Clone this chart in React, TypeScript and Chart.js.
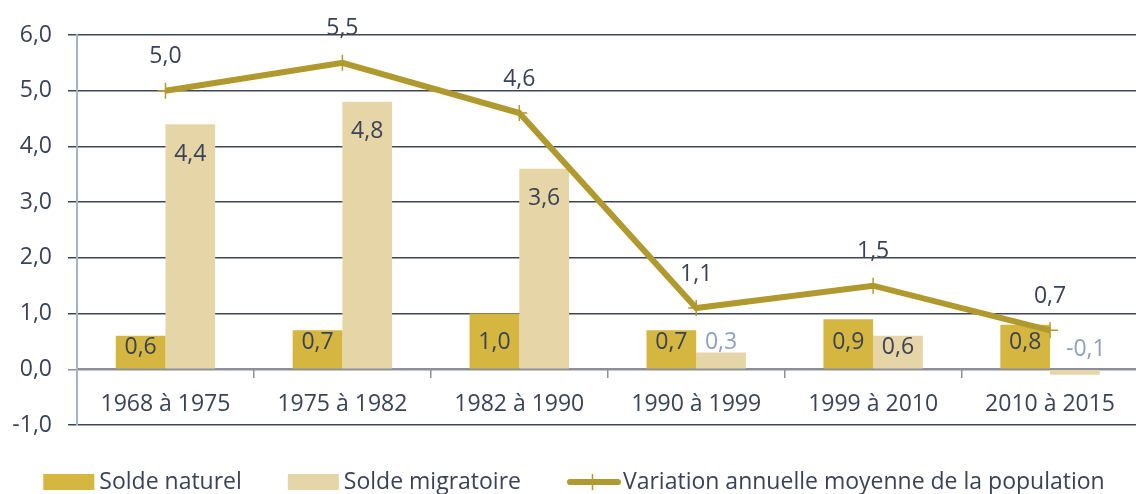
import React, { useEffect, useRef } from "react";
import { Chart, registerables } from "chart.js";

Chart.register(...registerables);

const categories = ["1968 à 1975", "1975 à 1982", "1982 à 1990", "1990 à 1999", "1999 à 2010", "2010 à 2015"];
const soldeNaturel = [0.6, 0.7, 1.0, 0.7, 0.9, 0.8];
const soldeMigratoire = [4.4, 4.8, 3.6, 0.3, 0.6, -0.1];
const variationAnnuelle = [5.0, 5.5, 4.6, 1.1, 1.5, 0.7];
const yMin = -1;
const yMax = 6;
const yStep = 1;
const legendLabels = ["Solde naturel", "Solde migratoire", "Variation annuelle moyenne de la population"];

const COL_NAT = "#d5b641";
const COL_MIG = "#e6d5a6";
const COL_LINE = "#b09a2f";
const TXT = "#3a4356";
const TXT_LIGHT = "#8ea0bd";
const FONT = "'Open Sans', 'Noto Sans', sans-serif";
const FS = 23;

const fmt = (v: number) => v.toFixed(1).replace(".", ",");

const labelsPlugin = {
  id: "valueLabels",
  afterDatasetsDraw(chart: any) {
    const ctx = chart.ctx;
    const yScale = chart.scales.y;
    const zeroY = yScale.getPixelForValue(0);
    ctx.save();
    ctx.font = `${FS}px ${FONT}`;
    ctx.textAlign = "center";
    ctx.textBaseline = "middle";
    chart.data.datasets.forEach((ds: any, di: number) => {
      const meta = chart.getDatasetMeta(di);
      meta.data.forEach((el: any, i: number) => {
        const v = ds.data[i];
        const t = fmt(v);
        if (ds.type === "line") {
          ctx.fillStyle = TXT;
          ctx.fillText(t, el.x, el.y - 34);
        } else if (v < 0) {
          ctx.fillStyle = TXT_LIGHT;
          ctx.fillText(t, el.x + 11, zeroY - 20);
        } else if (v < 0.5) {
          ctx.fillStyle = TXT_LIGHT;
          ctx.fillText(t, el.x, zeroY - 27);
        } else {
          ctx.fillStyle = TXT;
          const y = Math.min(el.y + 30, Math.max(el.y + 12, zeroY - 27));
          ctx.fillText(t, el.x, y);
        }
      });
    });
    ctx.restore();
  },
};

const legendPlugin = {
  id: "customLegend",
  afterDraw(chart: any) {
    const ctx = chart.ctx;
    ctx.save();
    ctx.font = `${FS}px ${FONT}`;
    ctx.textBaseline = "middle";
    ctx.textAlign = "left";
    const boxW = 51;
    const gapText = 5;
    const gapItem = 46;
    const widths = legendLabels.map((l) => ctx.measureText(l).width);
    const total = widths.reduce((a, b) => a + b, 0) + 3 * (boxW + gapText) + 2 * gapItem;
    let x = 574 - total / 2;
    const y = 482;
    legendLabels.forEach((lab, i) => {
      if (i < 2) {
        ctx.fillStyle = i === 0 ? COL_NAT : COL_MIG;
        ctx.fillRect(x, y - 8, boxW, 16);
        x += boxW;
      } else {
        ctx.strokeStyle = COL_LINE;
        ctx.lineWidth = 6;
        ctx.lineCap = "round";
        ctx.beginPath();
        ctx.moveTo(x + 3, y);
        ctx.lineTo(x + boxW, y);
        ctx.stroke();
        ctx.lineWidth = 1.5;
        ctx.lineCap = "butt";
        const cx = x + boxW / 2;
        ctx.beginPath();
        ctx.moveTo(cx, y - 8);
        ctx.lineTo(cx, y + 8);
        ctx.stroke();
        x += boxW;
      }
      x += gapText;
      ctx.fillStyle = TXT;
      ctx.fillText(lab, x, y);
      x += widths[i] + gapItem;
    });
    ctx.restore();
  },
};

export default function App() {
  const ref = useRef<HTMLCanvasElement | null>(null);
  useEffect(() => {
    document.body.style.margin = "0";
    const canvas = ref.current;
    if (!canvas) return;
    const chart = new Chart(canvas, {
      type: "bar",
      data: {
        labels: categories,
        datasets: [
          {
            type: "line",
            label: legendLabels[2],
            data: variationAnnuelle,
            borderColor: COL_LINE,
            backgroundColor: COL_LINE,
            borderWidth: 6,
            tension: 0,
            pointStyle: "cross",
            pointRadius: 8,
            pointBorderWidth: 1.5,
            pointBorderColor: COL_LINE,
            order: 0,
          } as any,
          {
            type: "bar",
            label: legendLabels[0],
            data: soldeNaturel,
            backgroundColor: COL_NAT,
            categoryPercentage: 0.562,
            barPercentage: 1,
            order: 1,
          },
          {
            type: "bar",
            label: legendLabels[1],
            data: soldeMigratoire,
            backgroundColor: COL_MIG,
            categoryPercentage: 0.562,
            barPercentage: 1,
            order: 2,
          },
        ],
      },
      options: {
        animation: false,
        responsive: false,
        maintainAspectRatio: false,
        layout: { padding: { top: 35, bottom: 69, left: 0, right: 3 } },
        plugins: {
          legend: { display: false },
          tooltip: { enabled: false },
        },
        scales: {
          x: {
            position: { y: 0 } as any,
            offset: true,
            grid: {
              offset: true,
              drawOnChartArea: false,
              drawTicks: true,
              tickLength: 8,
              color: "#8a9098",
              lineWidth: 1.5,
            },
            border: { display: true, color: "#8a9098", width: 2 },
            ticks: {
              color: TXT,
              font: { family: FONT, size: FS },
              padding: 13,
              maxRotation: 0,
            },
          },
          y: {
            min: yMin,
            max: yMax,
            afterFit: (s: any) => {
              s.width = 77;
            },
            ticks: {
              stepSize: yStep,
              color: TXT,
              font: { family: FONT, size: FS },
              padding: 16,
              callback: (v: any) => fmt(Number(v)),
            },
            grid: {
              color: (c: any) => (c.tick && c.tick.value === 0 ? "#8a9098" : "#3e4656"),
              lineWidth: 1.5,
              tickLength: 9,
            },
            border: { display: true, color: "#a2b3cb", width: 2 },
          },
        },
      },
      plugins: [labelsPlugin, legendPlugin],
    });
    return () => chart.destroy();
  }, []);
  return (
    <div style={{ width: 1136, height: 494, overflow: "hidden" }}>
      <canvas ref={ref} width={1148} height={494} style={{ display: "block" }} />
    </div>
  );
}
